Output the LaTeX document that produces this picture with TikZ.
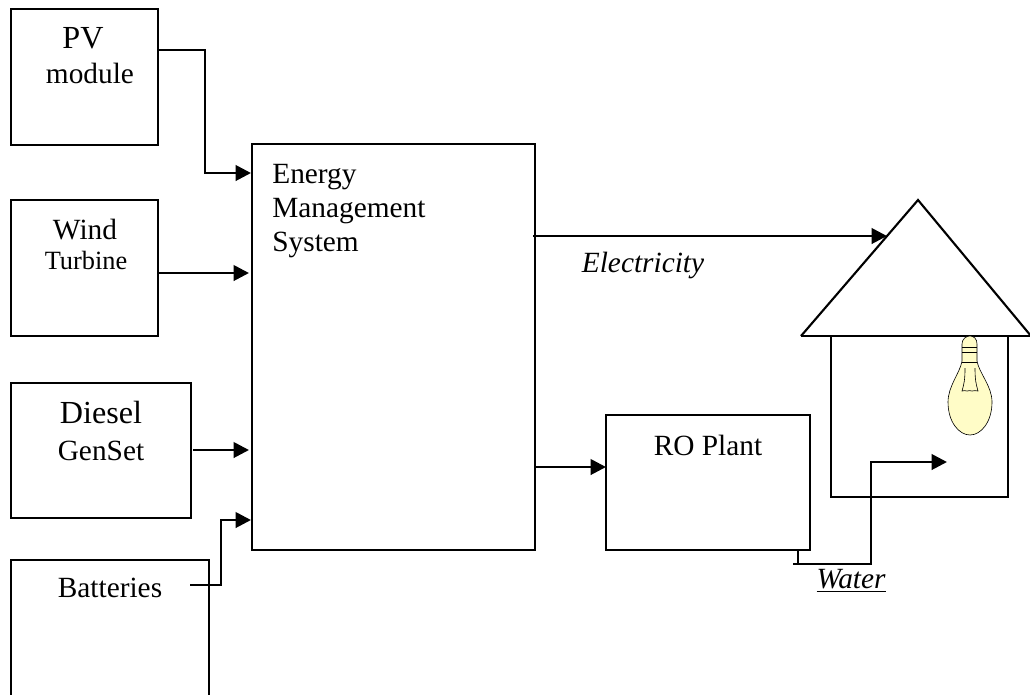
\documentclass[tikz,border=0pt]{standalone}
\usepackage{fontspec}
\setmainfont{Liberation Serif}
\usetikzlibrary{arrows.meta,positioning,calc}

\begin{document}
\begin{tikzpicture}[x=.02cm,y=-.02cm,font=\fontsize{16.7}{19}\selectfont,>={Triangle[length=8.8pt,width=8.8pt]},
 blockbox/.style={draw,line width=1.2pt,rectangle,inner sep=0pt,outer sep=0pt,anchor=north west},
 lab/.style={inner sep=0pt,align=center},
 flow/.style={->,line width=1.6pt},
 wall/.style={line width=1.2pt,line join=miter}]
\useasboundingbox (0,0) rectangle (1030,694);
\clip (0,0) rectangle (1030,694);
% source blocks
\node[blockbox,minimum width=2.94cm,minimum height=2.72cm] (pv) at (11,9) {};
\node[blockbox,minimum width=2.94cm,minimum height=2.72cm] (wind) at (11,200) {};
\node[blockbox,minimum width=3.6cm,minimum height=2.7cm] (diesel) at (11,383) {};
\node[blockbox,minimum width=3.96cm,minimum height=3.2cm] (batt) at (11,560) {};
\node[blockbox,minimum width=5.66cm,minimum height=8.12cm] (ems) at (252,144) {};
\node[blockbox,minimum width=4.08cm,minimum height=2.7cm] (ro) at (606,415) {};
% labels
\node[lab,font=\fontsize{18.3}{20}\selectfont] (pvtxt) at (83,38) {PV};
\node[lab] (pvtxt2) at (90,73) {module};
\node[lab] (windtxt) at (85,230) {Wind};
\node[lab,font=\fontsize{15}{18}\selectfont] (windtxt2) at (86,260) {Turbine};
\node[lab,font=\fontsize{18.3}{20}\selectfont] (dieseltxt) at (101,412) {Diesel};
\node[lab] (dieseltxt2) at (101,451) {GenSet};
\node[lab] (batttxt) at (110,588) {Batteries};
\node[lab,align=left,anchor=north west,font=\fontsize{16.7}{19.3}\selectfont] (emstxt) at (272,164) {Energy\\Management\\System};
\node[lab] (rotxt) at (708,445) {RO Plant};
\node[lab,font=\fontsize{16.7}{19}\itshape] (elec) at (643,265) {Electricity};
\node[lab,font=\fontsize{16.7}{19}\itshape] (water) at (851,581) {\underline{Water}};
% house
\coordinate (apex) at (918,200);
\coordinate (roofl) at (801,336);
\coordinate (roofr) at (1035,336);
\coordinate (walll) at (831,336);
\coordinate (wallr) at (1008,336);
\coordinate (footl) at (831,497);
\coordinate (footr) at (1008,497);
\draw[wall] (roofl) -- (apex) -- (1031,336);
\draw[wall] (roofl) -- (roofr);
\draw[wall] (walll) -- (footl) -- (footr) -- (wallr);
% bulb
\draw[fill=yellow!22,line width=.35pt] (962,344) .. controls (962,339) and (966,336) .. (970,336)
 .. controls (974,336) and (977,339) .. (977,344) -- (977,361)
 .. controls (979,373) and (992,386) .. (992,402) .. controls (992,422) and (981,435) .. (970,435)
 .. controls (959,435) and (948,422) .. (948,402) .. controls (948,386) and (960,373) .. (962,361) -- cycle;
\draw[line width=.35pt] (962,347) -- (977,347) (962,352) -- (977,352) (962,362) -- (977,362);
\draw[line width=.35pt] (965,368) .. controls (965,380) and (964,384) .. (962,391)
 .. controls (964,389) and (965,392) .. (967,391) .. controls (969,389) and (970,392) .. (972,391)
 .. controls (974,389) and (976,392) .. (978,391) .. controls (976,384) and (975,380) .. (975,368);
% connectors
\coordinate (pvout) at (158,50);
\coordinate (pvin) at (251,173);
\coordinate (windout) at (158,273);
\coordinate (windin) at (249,273);
\coordinate (dieselout) at (193,450);
\coordinate (dieselin) at (249,450);
\coordinate (battout) at (190,585);
\coordinate (battin) at (251,520);
\coordinate (emsout) at (533,236);
\coordinate (houseout) at (887,236);
\coordinate (emsro) at (535,467);
\coordinate (roin) at (606,467);
\coordinate (drop) at (798,550);
\coordinate (dropend) at (798,564);
\coordinate (waterout) at (793,564);
\coordinate (waterin) at (947,462);
\draw[flow] (pvout) -- (205,50) |- (pvin);
\draw[flow] (windout) -- (windin);
\draw[flow] (dieselout) -- (dieselin);
\draw[flow] (battout) -- (221,585) |- (battin);
\draw[flow] (emsout) -- (houseout);
\draw[flow] (emsro) -- (roin);
\draw[wall] (drop) -- (dropend);
\draw[flow] (waterout) -- (871,564) |- (waterin);
\end{tikzpicture}
\end{document}
